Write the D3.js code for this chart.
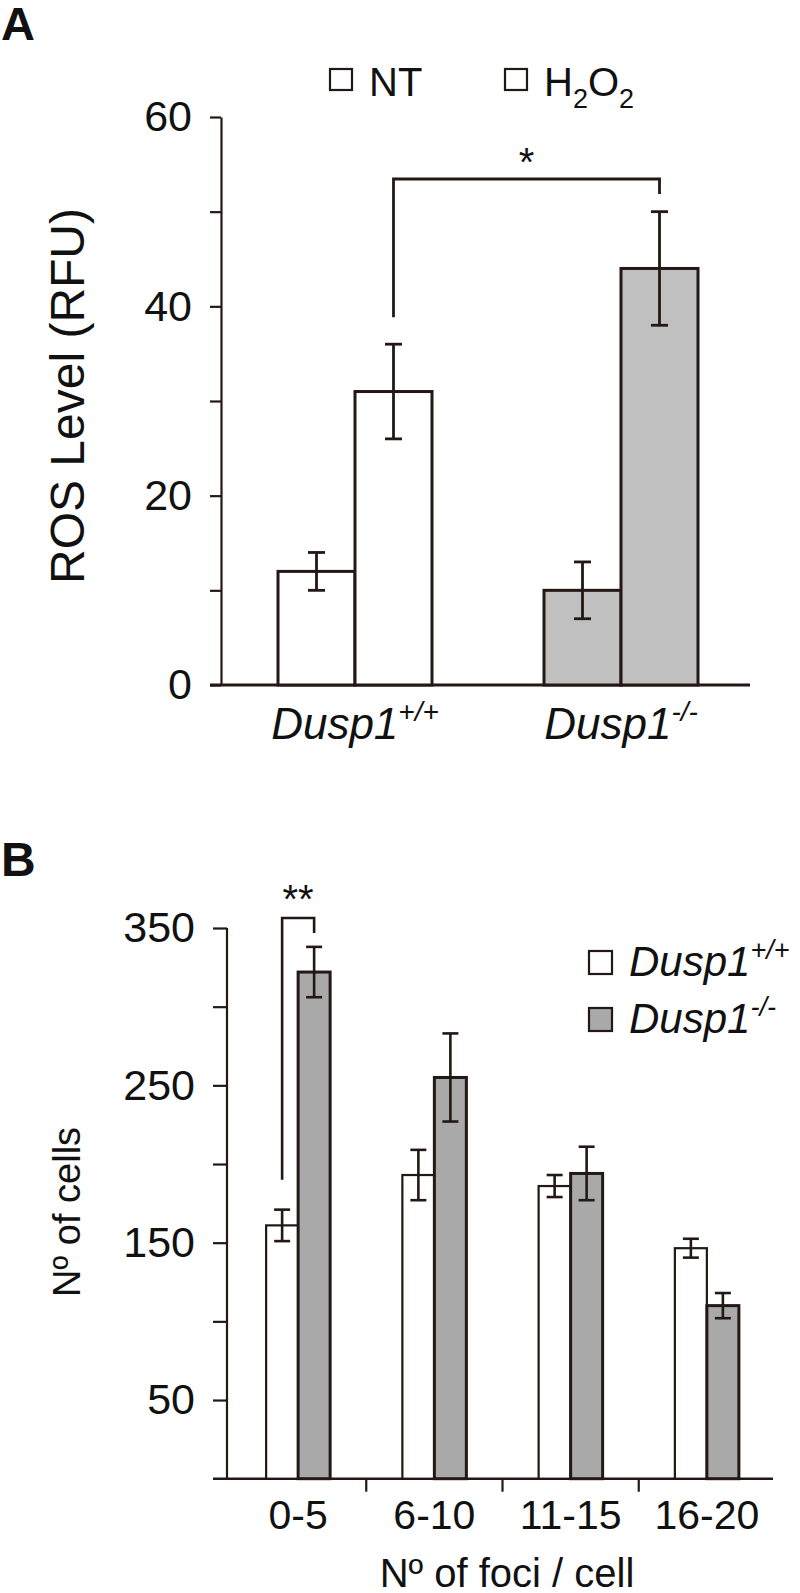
<!DOCTYPE html>
<html>
<head>
<meta charset="utf-8">
<script src="https://cdn.jsdelivr.net/npm/d3@7"></script>
<style>
  body { margin: 0; background: #fff; }
  svg text { font-family: "Liberation Sans", Arial, sans-serif; fill: #111; }
</style>
</head>
<body>
<div class="chart"></div>
<script>
// panel A data
let genotypes = ["+/+", "-/-"];
let treatments = ["NT", "H2O2"];
let ntMean = [12, 10];
let ntErr = [2, 3];
let h2o2Mean = [31, 44];
let h2o2Err = [5, 6];
let rosTicks = [0, 10, 20, 30, 40, 50, 60];

// panel B data
let fociBins = ["0-5", "6-10", "11-15", "16-20"];
let wtCells = [161, 193, 186, 146.5];
let wtErr = [10, 16, 7, 6];
let koCells = [322, 255, 194, 110];
let koErr = [16, 28, 17, 8];
let cellTicks = [50, 100, 150, 200, 250, 300, 350];

let ink = "#231815";
let svgWidth = 800;
let svgHeight = 1593;

let svg = d3.select(".chart")
  .append("svg")
  .attr("width", svgWidth)
  .attr("height", svgHeight);

// ---------- Panel A ----------
let yA = d3.scaleLinear().domain([0, 60]).range([685, 117]);
let xA = d3.scaleBand().domain(genotypes).range([222, 754]);
let barA = 77;

svg.append("text").attr("x", 1).attr("y", 40)
  .attr("font-size", 47).attr("font-weight", "bold").text("A");

let axisA = svg.append("g")
  .attr("transform", "translate(221,0)")
  .call(d3.axisLeft(yA).tickValues(rosTicks).tickSize(11).tickSizeOuter(0)
    .tickPadding(18).tickFormat(d => d % 20 === 0 ? d : ""));
axisA.selectAll("line, path").attr("stroke", ink).attr("stroke-width", 2.2);
axisA.selectAll("text").attr("font-size", 43).attr("fill", "#111")
  .attr("font-family", "Liberation Sans, Arial, sans-serif");

svg.append("line").attr("x1", 210).attr("x2", 750)
  .attr("y1", yA(0)).attr("y2", yA(0))
  .attr("stroke", ink).attr("stroke-width", 2.8);

let rowsA = genotypes.map((g, i) => [
  { g: g, x: xA(g) + xA.bandwidth() / 2 - barA, v: ntMean[i], e: ntErr[i], fill: i ? "#c0c0c0" : "#fff" },
  { g: g, x: xA(g) + xA.bandwidth() / 2, v: h2o2Mean[i], e: h2o2Err[i], fill: i ? "#c0c0c0" : "#fff" }
]).flat();

svg.selectAll("rect.barA").data(rowsA).enter().append("rect")
  .attr("class", "barA")
  .attr("x", d => d.x).attr("width", barA)
  .attr("y", d => yA(d.v)).attr("height", d => yA(0) - yA(d.v))
  .attr("fill", d => d.fill).attr("stroke", ink).attr("stroke-width", 3);

function errorBars(data, y, cap, sw) {
  let g = svg.append("g").attr("stroke", ink).attr("stroke-width", sw);
  data.forEach(d => {
    let cx = d.cx;
    g.append("line").attr("x1", cx).attr("x2", cx).attr("y1", y(d.v + d.e)).attr("y2", y(d.v - d.e));
    g.append("line").attr("x1", cx - cap / 2).attr("x2", cx + cap / 2).attr("y1", y(d.v + d.e)).attr("y2", y(d.v + d.e));
    g.append("line").attr("x1", cx - cap / 2).attr("x2", cx + cap / 2).attr("y1", y(d.v - d.e)).attr("y2", y(d.v - d.e));
  });
}
rowsA.forEach(d => d.cx = d.x + barA / 2);
errorBars(rowsA, yA, 17, 2.8);

// significance bracket between H2O2 bars
let bLeft = rowsA[1].cx, bRight = rowsA[3].cx;
svg.append("path")
  .attr("d", `M${bLeft},${yA(h2o2Mean[0] + h2o2Err[0]) - 27} V179 H${bRight} V194`)
  .attr("fill", "none").attr("stroke", ink).attr("stroke-width", 2.8);
svg.append("text").attr("x", (bLeft + bRight) / 2).attr("y", 176)
  .attr("text-anchor", "middle").attr("font-size", 40).text("*");

// category labels
genotypes.forEach(g => {
  let t = svg.append("text").attr("x", xA(g) + xA.bandwidth() / 2).attr("y", 739)
    .attr("text-anchor", "middle").attr("font-size", 44).attr("font-style", "italic");
  t.append("tspan").text("Dusp1");
  t.append("tspan").attr("dy", -18).attr("font-size", 28).text(g);
});

svg.append("text")
  .attr("transform", "translate(84,396) rotate(-90)")
  .attr("text-anchor", "middle").attr("font-size", 48)
  .text("ROS Level (RFU)");

// legend A
let legA = [{ x: 330, label: "NT" }, { x: 505, label: "H2O2" }];
legA.forEach((d, i) => {
  svg.append("rect").attr("x", d.x).attr("y", 69).attr("width", 22).attr("height", 21)
    .attr("fill", "#fff").attr("stroke", ink).attr("stroke-width", 2.2);
  let t = svg.append("text").attr("x", d.x + 39).attr("y", 96).attr("font-size", 40);
  if (i === 0) {
    t.text(treatments[0]);
  } else {
    t.append("tspan").text("H");
    t.append("tspan").attr("dy", 12).attr("font-size", 27).text("2");
    t.append("tspan").attr("dy", -12).text("O");
    t.append("tspan").attr("dy", 12).attr("font-size", 27).text("2");
  }
});

// ---------- Panel B ----------
let yB = d3.scaleLinear().domain([0, 350]).range([1478.7, 928]);
let xB = d3.scaleBand().domain(fociBins).range([230, 775]);
let barB = 32;

svg.append("text").attr("x", 1).attr("y", 876)
  .attr("font-size", 48).attr("font-weight", "bold").text("B");

let axisB = svg.append("g")
  .attr("transform", "translate(227,0)")
  .call(d3.axisLeft(yB).tickValues(cellTicks).tickSize(14).tickSizeOuter(0)
    .tickPadding(18).tickFormat(d => d % 100 === 50 ? d : ""));
axisB.select("path").attr("d", `M0,${yB(350)}V${yB(0)}`);
axisB.selectAll("line, path").attr("stroke", ink).attr("stroke-width", 2.2);
axisB.selectAll("text").attr("font-size", 43).attr("fill", "#111")
  .attr("font-family", "Liberation Sans, Arial, sans-serif");

svg.append("line").attr("x1", 213).attr("x2", 773)
  .attr("y1", yB(0)).attr("y2", yB(0))
  .attr("stroke", ink).attr("stroke-width", 2.6);

// boundary ticks between bins
svg.selectAll("line.binTick").data(fociBins.slice(1)).enter().append("line")
  .attr("class", "binTick")
  .attr("x1", d => xB(d)).attr("x2", d => xB(d))
  .attr("y1", yB(0)).attr("y2", yB(0) + 13)
  .attr("stroke", ink).attr("stroke-width", 2.2);

let axisBx = svg.append("g")
  .attr("transform", `translate(0,${yB(0)})`)
  .call(d3.axisBottom(xB).tickSize(0).tickPadding(21));
axisBx.select("path").remove();
axisBx.selectAll("text").attr("font-size", 41).attr("fill", "#111")
  .attr("font-family", "Liberation Sans, Arial, sans-serif").attr("dy", "0.72em");

let rowsB = fociBins.map((b, i) => [
  { x: xB(b) + xB.bandwidth() / 2 - barB, v: wtCells[i], e: wtErr[i], fill: "#fff", sw: 2.2 },
  { x: xB(b) + xB.bandwidth() / 2, v: koCells[i], e: koErr[i], fill: "#a9a9a9", sw: 3 }
]).flat();
rowsB.forEach(d => d.cx = d.x + barB / 2);

svg.selectAll("rect.barB").data(rowsB).enter().append("rect")
  .attr("class", "barB")
  .attr("x", d => d.x).attr("width", barB)
  .attr("y", d => yB(d.v)).attr("height", d => yB(0) - yB(d.v))
  .attr("fill", d => d.fill).attr("stroke", ink).attr("stroke-width", d => d.sw);
errorBars(rowsB, yB, 16, 2.6);

// ** bracket on first bin
let sL = rowsB[0].cx, sR = rowsB[1].cx;
svg.append("path")
  .attr("d", `M${sL},${yB(wtCells[0] + wtErr[0]) - 30} V918 H${sR} V933`)
  .attr("fill", "none").attr("stroke", ink).attr("stroke-width", 2.6);
svg.append("text").attr("x", (sL + sR) / 2).attr("y", 913)
  .attr("text-anchor", "middle").attr("font-size", 40).text("**");

svg.append("text")
  .attr("transform", "translate(80,1212) rotate(-90)")
  .attr("text-anchor", "middle").attr("font-size", 38)
  .text("Nº of cells");

svg.append("text").attr("x", 507).attr("y", 1587)
  .attr("text-anchor", "middle").attr("font-size", 40)
  .text("Nº of foci / cell");

// legend B
let legB = [{ y: 951, sup: "+/+", fill: "#fff" }, { y: 1008, sup: "-/-", fill: "#a9a9a9" }];
legB.forEach(d => {
  svg.append("rect").attr("x", 589).attr("y", d.y).attr("width", 23).attr("height", 23)
    .attr("fill", d.fill).attr("stroke", ink).attr("stroke-width", 2.2);
  let t = svg.append("text").attr("x", 629).attr("y", d.y + 25)
    .attr("font-size", 42).attr("font-style", "italic");
  t.append("tspan").text("Dusp1");
  t.append("tspan").attr("dy", -17).attr("font-size", 27).text(d.sup);
});
</script>
</body>
</html>
